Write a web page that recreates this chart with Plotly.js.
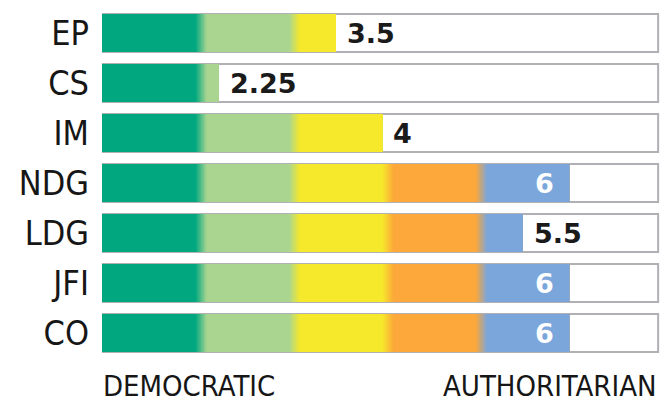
<!DOCTYPE html>
<html>
<head>
<meta charset="utf-8">
<script src="https://cdn.plot.ly/plotly-3.0.1.min.js"></script>
<style>html,body{margin:0;padding:0;background:#fff;}</style>
</head>
<body>
<div id="chart" style="width:660px;height:402px"></div>
<script>
// ---- data ----
const categories = ['EP', 'CS', 'IM', 'NDG', 'LDG', 'JFI', 'CO'];
const scores = [3.5, 2.25, 4, 6, 5.5, 6, 6];
const scoreLabels = ['3.5', '2.25', '4', '6', '5.5', '6', '6'];
const bandStarts = [1, 2, 3, 4, 5];
const bandColors = ['#00a77f', '#a9d591', '#f6e92b', '#fca83a', '#7aa6db'];
const scaleMin = 1;
const scaleEnd = 6.95;
const endLabels = ['DEMOCRATIC', 'AUTHORITARIAN'];

// ---- styling helpers ----
const narrowFont = 'DejaVu Sans Condensed, Liberation Sans Narrow, sans-serif';
const transWidth = 0.12, transSteps = 8;
function hexToRgb(h){ return [1,3,5].map(i => parseInt(h.substr(i,2),16)); }
function lerp(a, b, t){
  const A = hexToRgb(a), B = hexToRgb(b);
  return 'rgb(' + A.map((v,i) => Math.round(v + (B[i]-v)*t)).join(',') + ')';
}

const traces = [];
// white background box with grey border
traces.push({
  type: 'bar', orientation: 'h', y: categories,
  base: categories.map(() => scaleMin),
  x: categories.map(() => scaleEnd - scaleMin),
  marker: {color: '#ffffff', line: {color: '#b0b0b5', width: 2}},
  hoverinfo: 'skip', showlegend: false
});

// colour layers, left to right; each layer covers from its start to the score
function layer(start, color){
  traces.push({
    type: 'bar', orientation: 'h', y: categories,
    base: scores.map(() => start),
    x: scores.map(s => Math.max(0, s - start)),
    marker: {color: color, line: {width: 0}},
    hoverinfo: 'skip', showlegend: false
  });
}
bandStarts.forEach((bs, i) => {
  if (i === 0) { layer(bs, bandColors[0]); return; }
  for (let k = 0; k < transSteps; k++) {
    layer(bs + k * transWidth / transSteps, lerp(bandColors[i-1], bandColors[i], (k + 0.5) / transSteps));
  }
  layer(bs + transWidth, bandColors[i]);
});

const maxScore = Math.max(...scores);
const annotations = categories.map((c, i) => {
  const inside = scores[i] >= maxScore;
  return {
    x: scores[i], y: c, xref: 'x', yref: 'y',
    text: scoreLabels[i], showarrow: false,
    xanchor: inside ? 'right' : 'left',
    xshift: inside ? -13 : 9,
    font: {family: 'DejaVu Sans', size: 27, color: inside ? '#ffffff' : '#1a1a1a', weight: 'bold'}
  };
});
annotations.push({
  x: scaleMin, xref: 'x', xanchor: 'left', xshift: -1,
  y: -0.08, yref: 'paper', yanchor: 'middle',
  text: endLabels[0], showarrow: false,
  font: {family: narrowFont, size: 29, color: '#161616'}
});
annotations.push({
  x: scaleEnd, xref: 'x', xanchor: 'right', xshift: 1,
  y: -0.08, yref: 'paper', yanchor: 'middle',
  text: endLabels[1], showarrow: false,
  font: {family: narrowFont, size: 29, color: '#161616'}
});

const layout = {
  width: 660, height: 402,
  margin: {l: 102, r: 0, t: 8, b: 44, pad: 0},
  paper_bgcolor: '#ffffff', plot_bgcolor: '#ffffff',
  barmode: 'overlay', bargap: 0.24,
  showlegend: false,
  xaxis: {range: [scaleMin, 6.97], showgrid: false, zeroline: false, showticklabels: false, ticks: '', showline: false, fixedrange: true},
  yaxis: {autorange: 'reversed', showgrid: false, zeroline: false, ticks: '', showline: false,
          ticklabelstandoff: 12,
          tickfont: {family: narrowFont, size: 34, color: '#161616'}, fixedrange: true},
  annotations: annotations
};

Plotly.newPlot('chart', traces, layout, {displayModeBar: false, staticPlot: true});
</script>
</body>
</html>
